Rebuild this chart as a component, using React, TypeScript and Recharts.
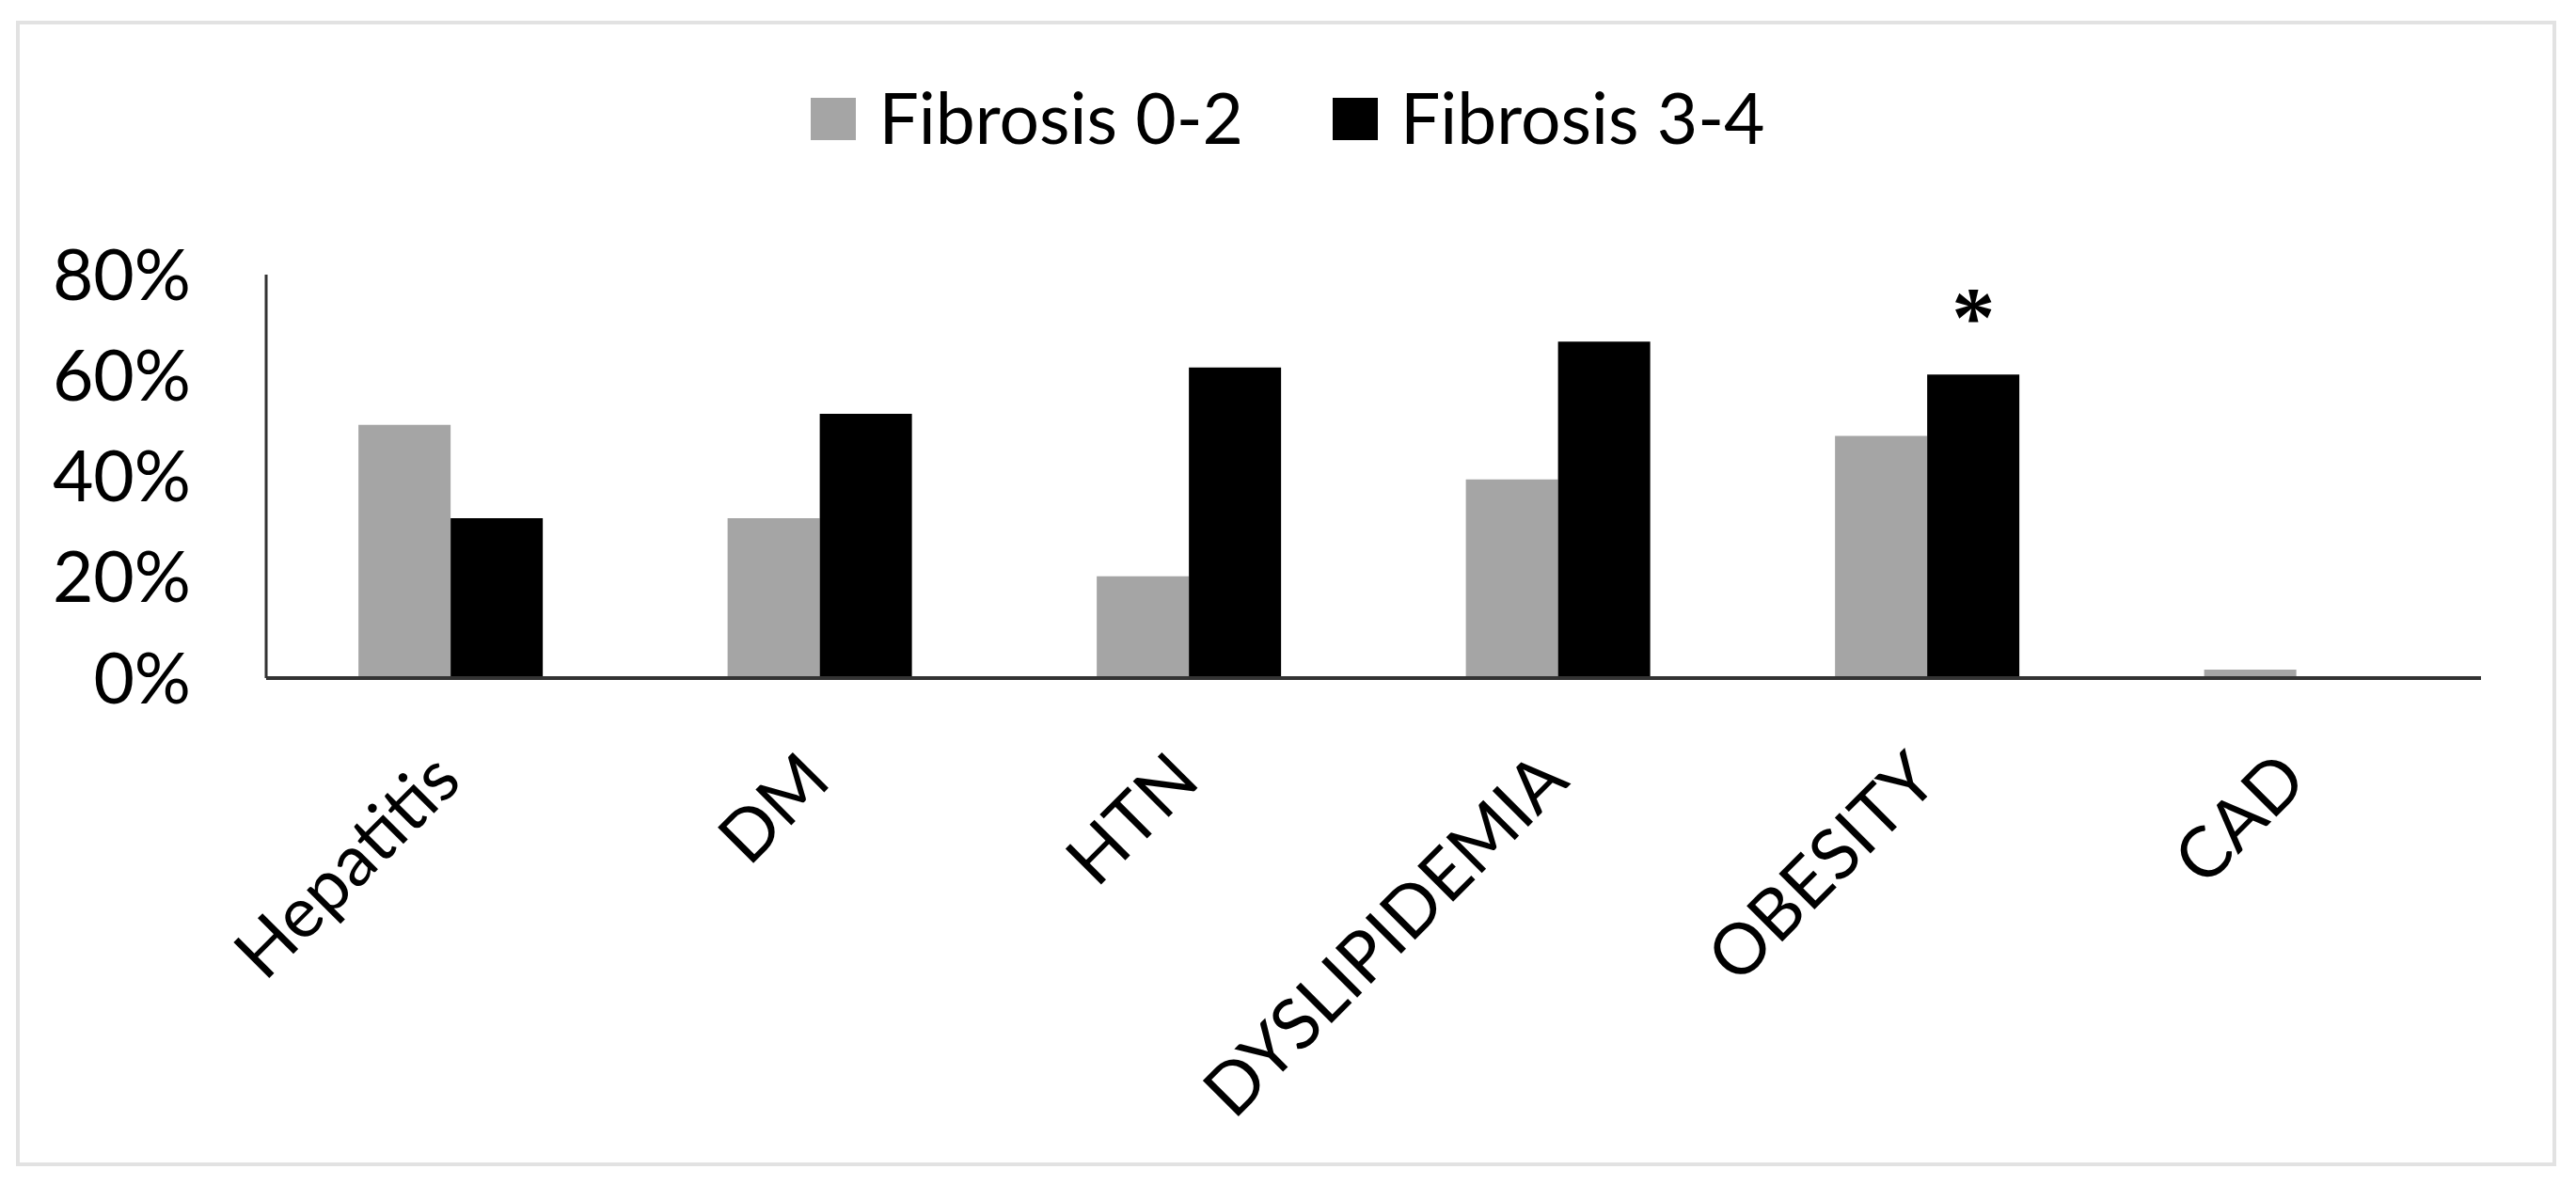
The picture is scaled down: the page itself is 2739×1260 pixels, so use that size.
import React from "react";
import { BarChart, Bar, XAxis, YAxis, Legend, LabelList } from "recharts";

const categories = ["Hepatitis", "DM", "HTN", "DYSLIPIDEMIA", "OBESITY", "CAD"];
const fibrosis02 = [50.2, 31.7, 20.2, 39.4, 48.0, 1.7];
const fibrosis34 = [31.7, 52.4, 61.6, 66.7, 60.2, 0];
const significance = ["", "", "", "", "*", ""];
const yTicks = [0, 20, 40, 60, 80];

const data = categories.map((c, i) => ({
  name: c,
  f02: fibrosis02[i],
  f34: fibrosis34[i],
  sig: significance[i],
}));

const FONT = "Lato, 'Open Sans', sans-serif";

const XTick = (props: any) => {
  const { x, y, payload } = props;
  return (
    <g transform={`translate(${x + 14},${y + 112})`}>
      <text
        textAnchor="end"
        transform="rotate(-45)"
        fontFamily={FONT}
        fontSize={75}
        fill="#000"
      >
        {payload.value}
      </text>
    </g>
  );
};

const StarLabel = (props: any) => {
  const { x, y, width, value } = props;
  if (!value) return null;
  return (
    <text
      x={x + width / 2}
      y={y - 30}
      textAnchor="middle"
      fontFamily="'Liberation Serif', serif"
      fontWeight="bold"
      fontSize={92}
      fill="#000"
    >
      {value}
    </text>
  );
};

const LegendContent = (props: any) => {
  const { payload } = props;
  return (
    <div
      style={{
        display: "flex",
        justifyContent: "center",
        alignItems: "flex-end",
        fontFamily: FONT,
        fontSize: 75,
        lineHeight: 1,
        color: "#000",
      }}
    >
      {payload.map((p: any, i: number) => (
        <div
          key={i}
          style={{
            display: "flex",
            alignItems: "flex-end",
            marginRight: i === payload.length - 1 ? 0 : 95,
          }}
        >
          <div
            style={{
              width: 48,
              height: 45,
              background: p.color,
              marginRight: 24,
            }}
          />
          <span style={{ position: "relative", top: 13 }}>{p.value}</span>
        </div>
      ))}
    </div>
  );
};

export default function App() {
  return (
    <div
      style={{
        position: "absolute",
        left: 0,
        top: 0,
        width: 2739,
        height: 1260,
        background: "#fff",
      }}
    >
      <div
        style={{
          position: "absolute",
          left: 17,
          top: 22,
          width: 2701,
          height: 1218,
          border: "4px solid #e2e2e2",
          boxSizing: "border-box",
        }}
      />
      <BarChart
        width={2739}
        height={1260}
        data={data}
        margin={{ top: 292, right: 101, bottom: 0, left: 0 }}
        barCategoryGap="25%"
        barGap={0}
        style={{ position: "absolute", left: 0, top: 0 }}
      >
        <XAxis
          dataKey="name"
          height={539}
          axisLine={{ stroke: "#333", strokeWidth: 4 }}
          tickLine={false}
          tickSize={0}
          tickMargin={0}
          interval={0}
          tick={<XTick />}
        />
        <YAxis
          width={283}
          domain={[0, 80]}
          ticks={yTicks}
          interval={0}
          axisLine={{ stroke: "#333", strokeWidth: 3 }}
          tickLine={false}
          tickSize={0}
          tickMargin={80}
          tickFormatter={(v: number) => `${v}%`}
          tick={{ fontFamily: FONT, fontSize: 75, fill: "#000" }}
        />
        <Legend
          layout="horizontal"
          verticalAlign="middle"
          align="center"
          wrapperStyle={{ top: 74, left: 0, width: 2739 }}
          content={<LegendContent />}
        />
        <Bar dataKey="f02" name="Fibrosis 0-2" fill="#a5a5a5" isAnimationActive={false} />
        <Bar dataKey="f34" name="Fibrosis 3-4" fill="#000000" isAnimationActive={false}>
          <LabelList dataKey="sig" content={<StarLabel />} />
        </Bar>
      </BarChart>
    </div>
  );
}
